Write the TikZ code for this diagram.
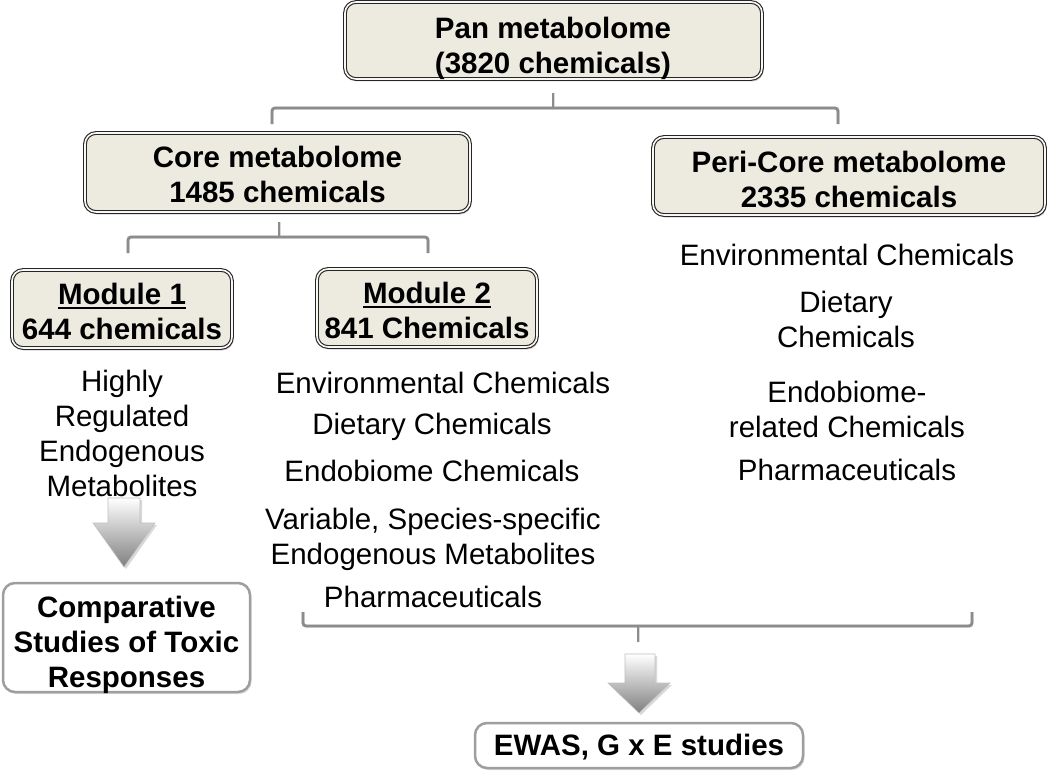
\documentclass[tikz,border=0pt]{standalone}
\usepackage{fontspec}
\setmainfont{Liberation Sans}
\usetikzlibrary{shadows}
\definecolor{boxfill}{HTML}{EDEBE0}
\definecolor{brk}{HTML}{8C8C8C}
\definecolor{gborder}{HTML}{9E9E9E}
\newcommand\myul[1]{\setbox0\hbox{#1}\rlap{\rule[-5pt]{\wd0}{2pt}}\box0}
\tikzset{
  txt/.style={font=\fontsize{29.5}{35}\selectfont, align=center, inner sep=0pt},
  btxt/.style={font=\fontsize{29.5}{35}\selectfont\bfseries, align=center, inner sep=0pt},
  dbox/.style={draw=black!85, double=boxfill!40!white, double distance=1.6pt, line width=1.1pt,
    fill=boxfill, rounded corners=11pt,
    drop shadow={opacity=0.35, shadow xshift=1.5pt, shadow yshift=-2.5pt},
    inner sep=0pt},
  gbox/.style={draw=gborder, line width=2.5pt, fill=white, rounded corners=12pt,
    drop shadow={opacity=0.25, shadow xshift=1.5pt, shadow yshift=-2pt},
    inner sep=0pt},
  bracket/.style={draw=brk, line width=2.8pt, rounded corners=3pt},
  bshadow/.style={draw=black!15, line width=3pt, rounded corners=3pt},
  downarrow/.style={top color=white, bottom color=black!50, draw=black!25, line width=0.6pt}
}
\begin{document}
\begin{tikzpicture}[x=1pt,y=-1pt]
\useasboundingbox (0,0) rectangle (1050,776);

% boxes
\node[dbox, minimum width=417pt, minimum height=77pt] (pan) at (553.5,40.5) {};
\node[dbox, minimum width=385pt, minimum height=79pt] (core) at (277.5,172.5) {};
\node[dbox, minimum width=392pt, minimum height=78pt] (peri) at (849,176) {};
\node[dbox, minimum width=220pt, minimum height=78pt] (mod1) at (122,309) {};
\node[dbox, minimum width=220pt, minimum height=78pt] (mod2) at (427,308) {};
\node[gbox, minimum width=247pt, minimum height=109pt] (comp) at (126.5,637.5) {};
\node[gbox, minimum width=328pt, minimum height=45pt] (ewas) at (639,745.5) {};

% box texts
\node[btxt] (pant) at (553,48.5) {Pan metabolome\\(3820 chemicals)};
\node[btxt] (coret) at (277.5,174.5) {Core metabolome\\1485 chemicals};
\node[btxt] (perit) at (849,179) {Peri-Core metabolome\\2335 chemicals};
\node[btxt] (mod1t) at (122,311) {\myul{Module 1}\\644 chemicals};
\node[btxt] (mod2t) at (427,310) {\myul{Module 2}\\841 Chemicals};
\node[btxt] (compt) at (126.5,644.5) {Comparative\\Studies of Toxic\\Responses};
\node[btxt] (ewast) at (639,747.5) {EWAS, G x E studies};

% module 1 text
\node[txt] (m1t) at (122,433.5) {Highly\\Regulated\\Endogenous\\Metabolites};

% module 2 texts
\node[txt] (m2a) at (443,383) {Environmental Chemicals};
\node[txt] (m2b) at (432,427) {Dietary Chemicals};
\node[txt] (m2c) at (432,471) {Endobiome Chemicals};
\node[txt] (m2d) at (433,539) {Variable, Species-specific\\Endogenous Metabolites};
\node[txt] (m2e) at (433,597) {Pharmaceuticals};

% peri texts
\node[txt] (pa) at (847,255) {Environmental Chemicals};
\node[txt] (pb) at (846,319) {Dietary\\Chemicals};
\node[txt] (pc) at (847,409) {Endobiome-\\related Chemicals};
\node[txt] (pd) at (847,470) {Pharmaceuticals};

% bracket coordinates
\coordinate (b1t) at (553,93);
\coordinate (b1c) at (553,108);
\coordinate (b1l) at (272,108);
\coordinate (b1r) at (838,108);
\coordinate (b1le) at (272,124);
\coordinate (b1re) at (838,124);

\coordinate (b2t) at (279,222);
\coordinate (b2c) at (279,237);
\coordinate (b2l) at (128,237);
\coordinate (b2r) at (428,237);
\coordinate (b2le) at (128,253);
\coordinate (b2re) at (428,253);

\coordinate (b3t) at (638,642);
\coordinate (b3c) at (638,626);
\coordinate (b3l) at (303,626);
\coordinate (b3r) at (972,626);
\coordinate (b3le) at (303,612);
\coordinate (b3re) at (972,612);

% bracket shadows
\begin{scope}[shift={(1.5,2.5)}]
\draw[bshadow] (b1le) -- (b1l) -- (b1r) -- (b1re);
\draw[bshadow] (b1t) -- (b1c);
\draw[bshadow] (b2le) -- (b2l) -- (b2r) -- (b2re);
\draw[bshadow] (b2t) -- (b2c);
\draw[bshadow] (b3le) -- (b3l) -- (b3r) -- (b3re);
\draw[bshadow] (b3t) -- (b3c);
\end{scope}
% brackets
\draw[bracket] (b1le) -- (b1l) -- (b1r) -- (b1re);
\draw[bracket] (b1t) -- (b1c);
\draw[bracket] (b2le) -- (b2l) -- (b2r) -- (b2re);
\draw[bracket] (b2t) -- (b2c);
\draw[bracket] (b3le) -- (b3l) -- (b3r) -- (b3re);
\draw[bracket] (b3t) -- (b3c);

% down arrows
\fill[black!15] (110,500) -- (142,500) -- (142,525) -- (157,525) -- (126,569) -- (95,525) -- (110,525) -- cycle;
\shade[downarrow] (108,498) -- (140,498) -- (140,523) -- (155,523) -- (124,567) -- (93,523) -- (108,523) -- cycle;
\fill[black!15] (627,656) -- (657,656) -- (657,685) -- (672,685) -- (641,715) -- (610,685) -- (627,685) -- cycle;
\shade[downarrow] (625,654) -- (655,654) -- (655,683) -- (670,683) -- (639,713) -- (608,683) -- (625,683) -- cycle;
\end{tikzpicture}
\end{document}
